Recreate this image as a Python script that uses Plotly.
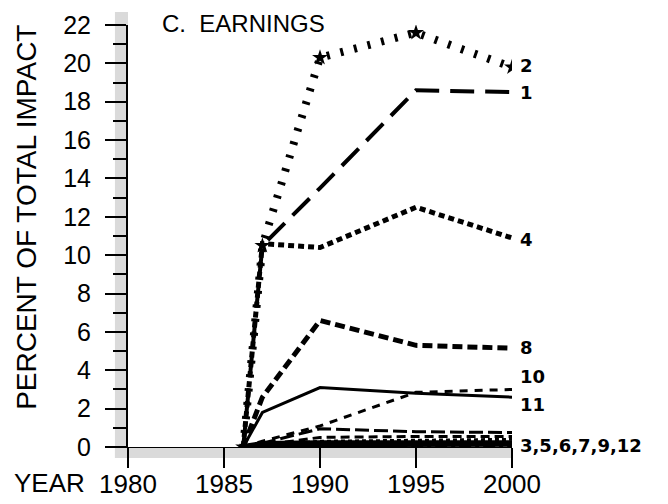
import plotly.graph_objects as go

# years shared by every series
years = [1986, 1987, 1990, 1995, 2000]

# percent of total impact
s1 = [0, 10.5, 13.5, 18.6, 18.5]
s2 = [0, 10.5, 20.3, 21.6, 19.8]
s4 = [0, 10.6, 10.4, 12.5, 10.9]
s8 = [0, 2.6, 6.6, 5.3, 5.15]
s10 = [0, 0.3, 1.1, 2.85, 3.0]
s11 = [0, 1.8, 3.1, 2.8, 2.6]
s3 = [0, 0.2, 0.95, 0.8, 0.75]
s5 = [0, 0.1, 0.5, 0.55, 0.55]
s6 = [0, 0.1, 0.3, 0.35, 0.4]
s7 = [0, 0.15, 0.2, 0.2, 0.2]
s9 = [0, 0.1, 0.12, 0.15, 0.15]
s12 = [0, 0.05, 0.1, 0.1, 0.1]

end_labels = ["2", "1", "4", "8", "10", "11", "3,5,6,7,9,12"]
end_label_y = [19.9, 18.5, 10.8, 5.2, 3.65, 2.2, 0.1]

x_ticks = [1980, 1985, 1990, 1995, 2000]
y_ticks = list(range(0, 23, 2))

font = "Liberation Sans, Arial, sans-serif"

fig = go.Figure()

# small ones near zero first so the big ones sit on top
low = [
    (s3, dict(width=3, dash="14px,5px")),
    (s5, dict(width=3, dash="9px,5px")),
    (s6, dict(width=3, dash="4px,3px")),
    (s7, dict(width=6)),
    (s9, dict(width=5)),
    (s12, dict(width=4, dash="dashdot")),
]
for vals, ln in low:
    fig.add_trace(go.Scatter(x=years, y=vals, mode="lines",
                             line=dict(color="black", **ln)))

fig.add_trace(go.Scatter(x=years, y=s11, mode="lines",
                         line=dict(color="black", width=3)))
fig.add_trace(go.Scatter(x=years, y=s10, mode="lines",
                         line=dict(color="black", width=3, dash="8px,7px")))
fig.add_trace(go.Scatter(x=years, y=s8, mode="lines",
                         line=dict(color="black", width=5, dash="10px,5px")))
fig.add_trace(go.Scatter(x=years, y=s4, mode="lines",
                         line=dict(color="black", width=5, dash="6px,4px")))
fig.add_trace(go.Scatter(x=years, y=s1, mode="lines",
                         line=dict(color="black", width=4, dash="24px,11px")))
fig.add_trace(go.Scatter(x=years, y=s2, mode="lines+markers",
                         line=dict(color="black", width=8, dash="3px,11px"),
                         marker=dict(symbol="star", size=12, color="black")))

for txt, yv in zip(end_labels, end_label_y):
    fig.add_annotation(x=2000, y=yv, text="<b>" + txt + "</b>", showarrow=False,
                       xanchor="left", xshift=6,
                       font=dict(size=18, color="black", family="DejaVu Sans"))

# stippled bands along both axes
fig.add_shape(type="rect", xref="paper", yref="paper", x0=-0.034, x1=0,
              y0=-0.026, y1=1.031, fillcolor="#dadada", line_width=0, layer="below")
fig.add_shape(type="rect", xref="paper", yref="paper", x0=-0.034, x1=1.0,
              y0=-0.026, y1=0, fillcolor="#dadada", line_width=0, layer="below")

fig.add_annotation(xref="paper", yref="paper", x=0.083, y=1.04, text="C.  EARNINGS",
                   showarrow=False, xanchor="left", yanchor="top",
                   font=dict(size=24, color="black"))
fig.add_annotation(xref="paper", yref="paper", x=-0.263, y=0.543,
                   text="PERCENT OF TOTAL IMPACT", textangle=-90, showarrow=False,
                   xanchor="center", yanchor="middle",
                   font=dict(size=28, color="black"))
fig.add_annotation(xref="paper", yref="paper", x=-0.302, y=-0.085, text="YEAR",
                   showarrow=False, xanchor="left", yanchor="middle",
                   font=dict(size=26, color="black"))

# page body adds 8px, so the figure is 8px smaller each way
fig.update_layout(
    width=660, height=496,
    margin=dict(l=120, r=156, t=17, b=57, autoexpand=False),
    plot_bgcolor="white", paper_bgcolor="white",
    showlegend=False,
    font=dict(family=font, color="black"),
    xaxis=dict(range=[1980, 2000], tickvals=x_ticks, showgrid=False, zeroline=False,
               automargin=False,
               showline=True, linecolor="black", linewidth=1,
               ticks="outside", ticklen=20, tickwidth=2, tickcolor="black",
               ticklabelstandoff=-6, tickfont=dict(size=26)),
    yaxis=dict(range=[0, 22], tickvals=y_ticks, showgrid=False, zeroline=False,
               automargin=False,
               showline=True, linecolor="black", linewidth=2,
               ticks="outside", ticklen=21, tickwidth=2, tickcolor="black",
               ticklabelstandoff=9, tickfont=dict(size=25),
               minor=dict(dtick=1, ticks="outside", ticklen=13, tickwidth=2,
                          tickcolor="black")),
)

fig.write_html("out.html")
